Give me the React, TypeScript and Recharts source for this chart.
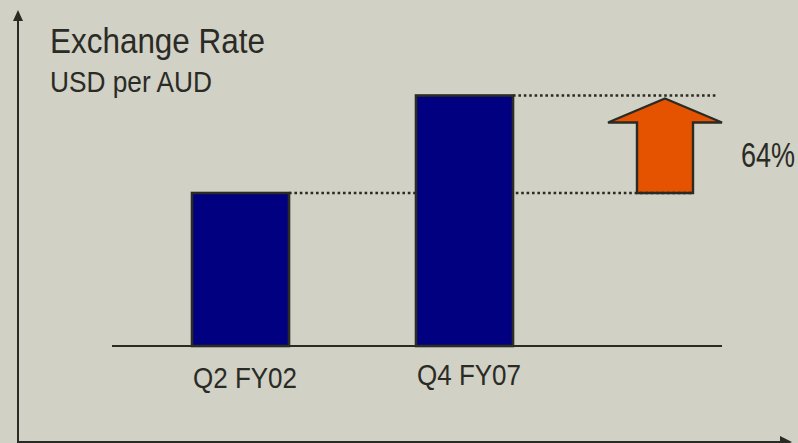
import { BarChart, Bar, XAxis, YAxis, ReferenceArea } from "recharts";

// periods and AUD exchange rate (USD per AUD)
const CATEGORIES = ["Q2 FY02", "Q4 FY07"];
const RATES = [0.51, 0.835];
const CHANGE_LABEL = "64%";
const TITLE = "Exchange Rate";
const SUBTITLE = "USD per AUD";

const W = 798;
const H = 443;
const MARGIN = { top: 46, right: 76, bottom: 37, left: 112 };
const PLOT_RIGHT = W - MARGIN.right;

const BG = "#d1d1c5";
const INK = "#2b2b25";
const NAVY = "#000080";
const ORANGE = "#e65300";
const FONT = "'Liberation Sans', Arial, sans-serif";

// arrow sizes
const HEAD_W = 114;
const SHAFT_W = 56;
const HEAD_H = 24;

const data = CATEGORIES.map((c, i) => ({ period: c, rate: RATES[i] }));

const BarWithGuide = (props: any) => {
    const { x, y, width, height, index } = props;
    // dotted guide from bar top to the arrow
    const shaftRight = PLOT_RIGHT - (HEAD_W - SHAFT_W) / 2;
    const end = index === 0 ? shaftRight - 1 : PLOT_RIGHT - 4;
    return (
        <g>
            <line
                x1={x + width}
                y1={y}
                x2={end}
                y2={y}
                stroke={INK}
                strokeWidth={2.6}
                strokeDasharray="2.6 2.8"
            />
            <rect x={x} y={y} width={width} height={height} fill={NAVY} stroke={INK} strokeWidth={2.6} />
        </g>
    );
};

const UpArrow = (props: any) => {
    const { y, height } = props;
    const right = PLOT_RIGHT;
    const left = right - HEAD_W;
    const cx = right - HEAD_W / 2;
    const top = y + 3;
    const bottom = y + height;
    const sl = cx - SHAFT_W / 2;
    const sr = cx + SHAFT_W / 2;
    const pts = [
        [cx, top],
        [right, top + HEAD_H],
        [sr, top + HEAD_H],
        [sr, bottom],
        [sl, bottom],
        [sl, top + HEAD_H],
        [left, top + HEAD_H],
    ]
        .map((p) => p.join(","))
        .join(" ");
    return <polygon points={pts} fill={ORANGE} stroke={INK} strokeWidth={2.4} strokeLinejoin="miter" />;
};

const PeriodTick = (props: any) => {
    const { x, y, payload, index } = props;
    return (
        <text
            x={x + 5}
            y={y + (index === 0 ? 34 : 31)}
            textAnchor="middle"
            fontFamily={FONT}
            fontSize={30}
            fill={INK}
            textLength={104}
            lengthAdjust="spacingAndGlyphs"
        >
            {payload.value}
        </text>
    );
};

export default function App() {
    return (
        <div style={{ position: "absolute", left: 0, top: 0, width: W, height: H, background: BG }}>
            <BarChart width={W} height={H} data={data} margin={MARGIN}>
                <XAxis
                    dataKey="period"
                    height={60}
                    padding={{ left: 16, right: 146 }}
                    axisLine={{ stroke: INK, strokeWidth: 2 }}
                    tickLine={false}
                    tick={<PeriodTick />}
                    interval={0}
                />
                <YAxis hide domain={[0, 1]} />
                <ReferenceArea y1={RATES[0]} y2={RATES[1]} shape={<UpArrow />} />
                <Bar dataKey="rate" barSize={97} shape={<BarWithGuide />} isAnimationActive={false} />
            </BarChart>
            <svg
                width={W}
                height={H}
                style={{ position: "absolute", left: 0, top: 0, pointerEvents: "none" }}
            >
                <line x1={18} y1={18} x2={18} y2={442} stroke={INK} strokeWidth={2} />
                <polygon points="18,10 13,21 23,21" fill={INK} />
                <line x1={17} y1={442} x2={784} y2={442} stroke={INK} strokeWidth={2} />
                <polygon points="792,442 780,436 780,448" fill={INK} />
                <text
                    x={50}
                    y={53}
                    fontFamily={FONT}
                    fontSize={35}
                    fill={INK}
                    textLength={215}
                    lengthAdjust="spacingAndGlyphs"
                >
                    {TITLE}
                </text>
                <text
                    x={50}
                    y={92}
                    fontFamily={FONT}
                    fontSize={29}
                    fill={INK}
                    textLength={162}
                    lengthAdjust="spacingAndGlyphs"
                >
                    {SUBTITLE}
                </text>
                <g transform="translate(741,167) scale(1,1.25)">
                    <text
                        x={0}
                        y={0}
                        fontFamily={FONT}
                        fontSize={28}
                        fill={INK}
                        textLength={54}
                        lengthAdjust="spacingAndGlyphs"
                    >
                        {CHANGE_LABEL}
                    </text>
                </g>
            </svg>
        </div>
    );
}
